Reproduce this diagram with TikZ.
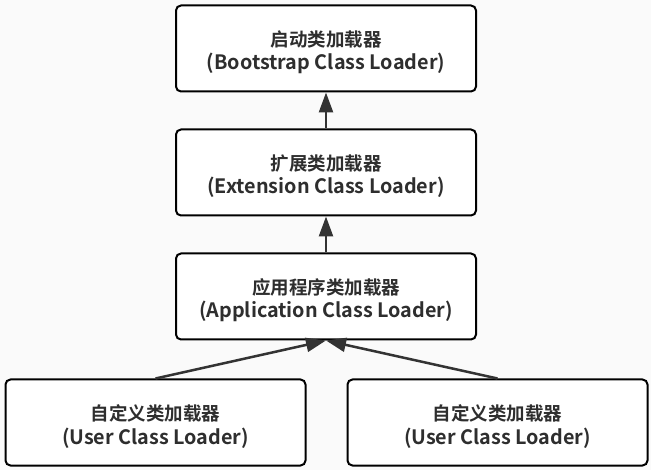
\documentclass[tikz,border=0pt]{standalone}
\usepackage{fontspec}
\setmainfont{Noto Sans CJK SC}[BoldFont={Noto Sans CJK SC Bold}]
\usetikzlibrary{arrows.meta,calc}
\definecolor{bg}{HTML}{FAFAFA}
\definecolor{txt}{HTML}{2E2E2E}
\definecolor{ln}{HTML}{333333}
\begin{document}
\begin{tikzpicture}[x=1pt,y=-1pt,
  loader/.style={draw=black, line width=2pt, fill=white, rounded corners=5pt,
    minimum width=300pt, minimum height=86pt, inner sep=0pt},
  cnline/.style={anchor=base, inner sep=0pt, text=txt, font=\fontsize{18.5pt}{22pt}\selectfont\bfseries},
  enline/.style={anchor=base, inner sep=0pt, text=txt, font=\fontsize{19.8pt}{22pt}\selectfont\bfseries},
  conn/.style={draw=ln, line width=2.5pt, -{Triangle[length=20pt,width=14pt]}, shorten >=0pt}]
\fill[bg] (0,0) rectangle (651,470);
\useasboundingbox (0,0) rectangle (651,470);
\node[loader] (boot) at (326,48.5) {};
\node[loader] (ext) at (326,172.5) {};
\node[loader] (app) at (326,296.5) {};
\node[loader] (u1) at (155.5,422.5) {};
\node[loader] (u2) at (497.5,422.5) {};
\node[cnline] (bootcn) at ($(boot.center)+(0,-2)$) {启动类加载器};
\node[enline] (booten) at ($(boot.center)+(0,21.5)$) {(Bootstrap Class Loader)};
\node[cnline] (extcn) at ($(ext.center)+(0,-2)$) {扩展类加载器};
\node[enline] (exten) at ($(ext.center)+(0,21.5)$) {(Extension Class Loader)};
\node[cnline] (appcn) at ($(app.center)+(0,-2)$) {应用程序类加载器};
\node[enline] (appen) at ($(app.center)+(0,21.5)$) {(Application Class Loader)};
\node[cnline] (u1cn) at ($(u1.center)+(0,-2)$) {自定义类加载器};
\node[enline] (u1en) at ($(u1.center)+(0,21.5)$) {(User Class Loader)};
\node[cnline] (u2cn) at ($(u2.center)+(0,-2)$) {自定义类加载器};
\node[enline] (u2en) at ($(u2.center)+(0,21.5)$) {(User Class Loader)};
\draw[conn] (ext.north) -- (boot.south);
\draw[conn] (app.north) -- (ext.south);
\draw[conn] (u1.north) -- (app.south);
\draw[conn] (u2.north) -- (app.south);
\end{tikzpicture}
\end{document}
